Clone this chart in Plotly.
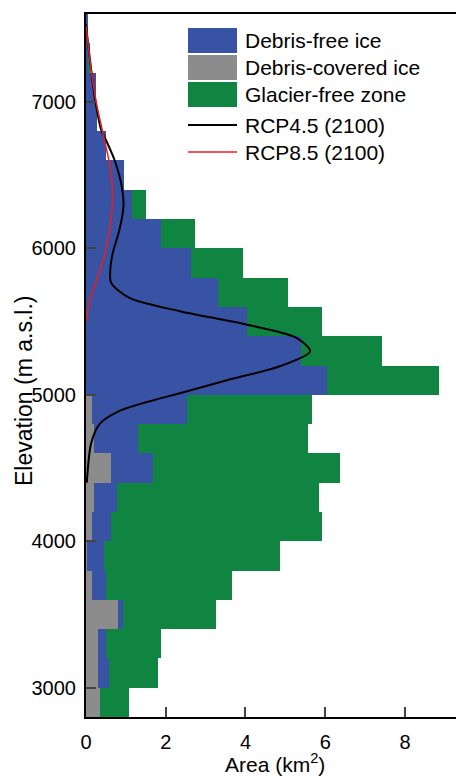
import plotly.graph_objects as go

# Elevation bins (200 m), bin centres
elev_bins = [2900, 3100, 3300, 3500, 3700, 3900, 4100, 4300, 4500, 4700, 4900,
             5100, 5300, 5500, 5700, 5900, 6100, 6300, 6500, 6700, 6900, 7100, 7300, 7500]
debris_covered = [0.34, 0.30, 0.30, 0.80, 0.16, 0.02, 0.16, 0.21, 0.62, 0.21, 0.15,
                  0, 0, 0, 0, 0, 0, 0, 0, 0, 0, 0, 0, 0]
debris_free = [0.0, 0.27, 0.19, 0.12, 0.34, 0.42, 0.46, 0.57, 1.06, 1.09, 2.38,
               6.04, 5.38, 4.05, 3.30, 2.64, 1.87, 1.15, 0.95, 0.49, 0.28, 0.25, 0.06, 0.03]
glacier_free = [0.75, 1.23, 1.39, 2.33, 3.17, 4.42, 5.31, 5.07, 4.69, 4.28, 3.13,
                2.82, 2.04, 1.87, 1.76, 1.30, 0.86, 0.35, 0, 0, 0, 0, 0.04, 0]

rcp45_area = [0.02, 0.13, 0.34, 0.84, 1.72, 2.35, 3.60, 4.86, 5.62, 5.28, 4.02, 2.35,
              1.09, 0.63, 0.61, 0.67, 0.84, 0.94, 0.90, 0.72, 0.50, 0.38, 0.22, 0.13, 0.05, 0.0]
rcp45_elev = [4400, 4670, 4800, 4890, 4965, 5011, 5104, 5195, 5297, 5389, 5480, 5571,
              5662, 5765, 5855, 5966, 6128, 6288, 6420, 6600, 6740, 6810, 7030, 7220, 7402, 7530]
rcp85_area = [0.0, 0.10, 0.34, 0.55, 0.66, 0.63, 0.46, 0.26, 0.13, 0.05, 0.0]
rcp85_elev = [5500, 5650, 5840, 6060, 6290, 6516, 6743, 6993, 7220, 7402, 7520]

x_ticks = [0, 2, 4, 6, 8]
y_ticks = [3000, 4000, 5000, 6000, 7000]

legend_labels = ["Debris-free ice", "Debris-covered ice", "Glacier-free zone",
                 "RCP4.5 (2100)", "RCP8.5 (2100)"]

FONT = "Arial, Liberation Sans, sans-serif"
BLUE = "#3953A4"
GRAY = "#8C8C8C"
GREEN = "#108542"
RED = "#EE1C1C"

W, H = 456, 776
ML, MR, MT, MB = 86, 0, 14, 59
PW, PH = W - ML - MR, H - MT - MB


def px(x):
    return (x - ML) / PW


def py(y):
    return (H - MB - y) / PH


fig = go.Figure()
fig.add_trace(go.Bar(y=elev_bins, x=debris_covered, orientation="h", width=200,
                     name=legend_labels[1], marker=dict(color=GRAY, line=dict(width=0))))
fig.add_trace(go.Bar(y=elev_bins, x=debris_free, orientation="h", width=200,
                     name=legend_labels[0], marker=dict(color=BLUE, line=dict(width=0))))
fig.add_trace(go.Bar(y=elev_bins, x=glacier_free, orientation="h", width=200,
                     name=legend_labels[2], marker=dict(color=GREEN, line=dict(width=0))))
fig.add_trace(go.Scatter(x=rcp45_area, y=rcp45_elev, mode="lines", name=legend_labels[3],
                         line=dict(color="black", width=2, shape="spline", smoothing=0.8)))
fig.add_trace(go.Scatter(x=rcp85_area, y=rcp85_elev, mode="lines", name=legend_labels[4],
                         line=dict(color=RED, width=1.5, shape="spline", smoothing=0.8)))

# Legend drawn as swatches + text (large rectangular swatches as in the original)
shapes = []
annotations = []
swatch_colors = [BLUE, GRAY, GREEN]
row_centers = [40.5, 67.5, 94.5, 125, 152]
for i, lab in enumerate(legend_labels):
    yc = row_centers[i]
    if i < 3:
        shapes.append(dict(type="rect", xref="paper", yref="paper",
                           x0=px(188), x1=px(237), y0=py(yc - 12.5), y1=py(yc + 12.5),
                           fillcolor=swatch_colors[i], line=dict(width=0), layer="above"))
    else:
        shapes.append(dict(type="line", xref="paper", yref="paper",
                           x0=px(188), x1=px(237), y0=py(yc), y1=py(yc),
                           line=dict(color="black" if i == 3 else RED,
                                     width=2 if i == 3 else 1.5), layer="above"))
    annotations.append(dict(text=lab, xref="paper", yref="paper", x=px(243), y=py(yc),
                            xanchor="left", yanchor="middle", showarrow=False,
                            font=dict(size=21, family=FONT, color="black")))

# Axis titles
annotations.append(dict(text="Elevation (m a.s.l.)", xref="paper", yref="paper",
                        x=px(24), y=py(391), textangle=-90, xanchor="center",
                        yanchor="middle", showarrow=False,
                        font=dict(size=23, family=FONT, color="black")))
annotations.append(dict(text="Area (km<sup>2</sup>)", xref="paper", yref="paper",
                        x=px(275), y=py(763), xanchor="center", yanchor="middle",
                        showarrow=False, font=dict(size=21, family=FONT, color="black")))

fig.update_layout(
    width=W, height=H,
    margin=dict(l=ML, r=MR, t=MT, b=MB),
    barmode="stack", bargap=0,
    plot_bgcolor="white", paper_bgcolor="white",
    font=dict(family=FONT, color="black", size=20),
    showlegend=False,
    hovermode=False,
    shapes=shapes,
    annotations=annotations,
    xaxis=dict(range=[0, 9.28], tickvals=x_ticks, ticks="inside", ticklen=10, tickwidth=2,
               showline=True, linecolor="black", linewidth=2, mirror=True,
               showgrid=False, zeroline=False, automargin=False,
               ticklabelstandoff=6, tickfont=dict(size=20)),
    yaxis=dict(range=[2800, 7600], tickvals=y_ticks, ticks="inside", ticklen=10, tickwidth=2,
               showline=True, linecolor="black", linewidth=2, mirror=False,
               showgrid=False, zeroline=False, automargin=False,
               ticklabelstandoff=4, tickfont=dict(size=20)),
)

# remove the page's default body margin so the 456x776 figure fills the window exactly
fig.write_html("out.html", config={"displayModeBar": False},
               post_script="document.body.style.margin='0';document.body.style.overflow='hidden';")
